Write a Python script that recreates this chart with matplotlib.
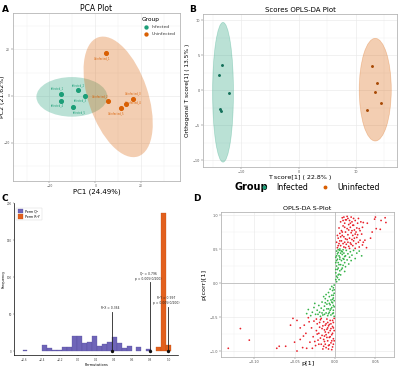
import matplotlib
matplotlib.use('Agg')
import matplotlib.pyplot as plt
from matplotlib.patches import Ellipse
from matplotlib.lines import Line2D
from matplotlib.ticker import MultipleLocator

plt.rcParams['font.family'] = ['DejaVu Sans']

# ---------------- data ----------------
# Panel A: PCA scores
pca_inf_names = ['Infected_1', 'Infected_2', 'Infected_3', 'Infected_4', 'Infected_5']
pca_inf_x = [-14.8, -7.4, -4.3, -14.8, -9.6]
pca_inf_y = [0.9, 2.6, 0.0, -2.1, -4.7]
pca_uninf_names = ['Uninfected_1', 'Uninfected_2', 'Uninfected_3', 'Uninfected_4', 'Uninfected_5']
pca_uninf_x = [4.8, 5.7, 16.5, 13.5, 11.3]
pca_uninf_y = [18.5, -2.1, -1.3, -3.4, -5.1]

# Panel B: OPLS-DA scores
opls_inf_t = [-13.4, -13.9, -12.2, -13.7, -13.6]
opls_inf_o = [3.6, 2.1, -0.4, -2.7, -3.0]
opls_uninf_t = [12.9, 13.7, 13.4, 14.4, 12.0]
opls_uninf_o = [3.4, 1.0, -0.3, -1.9, -2.9]

# Panel C: permutation histograms (left bin edges, counts)
q2_edges = [-0.62, -0.40, -0.345, -0.29, -0.235, -0.18, -0.125, -0.07, -0.015, 0.04, 0.095,
            0.15, 0.205, 0.26, 0.315, 0.37, 0.425, 0.48, 0.535, 0.645, 0.755]
q2_counts = [1, 8, 4, 2, 1, 6, 5, 20, 20, 11, 12, 20, 7, 10, 12, 19, 11, 4, 7, 6, 3]
r2y_edges = [0.865, 0.92, 0.975]
r2y_counts = [6, 186, 8]
bin_width = 0.055
stat_x = [0.375, 0.80, 1.0]
stat_h = [53, 93, 60]
stat_text = ['R\u00b2X = 0.364', 'Q\u00b2 = 0.796\np = 0.005(0/200)', 'R\u00b2Y = 0.997\np = 0.005(0/200)']

# Panel D: S-plot
s_p = [
    # upper
    0.003, 0.005, 0.004, 0.006, 0.005, 0.007, 0.008, 0.009, 0.008, 0.010, 0.011, 0.012, 0.011, 0.013, 0.012,
    0.014, 0.014, 0.015, 0.016, 0.015, 0.017, 0.016, 0.018, 0.019, 0.018, 0.020, 0.019, 0.021, 0.020, 0.022,
    0.023, 0.022, 0.024, 0.023, 0.025, 0.026, 0.027, 0.026, 0.028, 0.029, 0.030, 0.031, 0.030, 0.032, 0.033,
    0.035, 0.037, 0.034, 0.040, 0.035, 0.044, 0.049, 0.051, 0.056, 0.062, 0.063, 0.057, 0.050, 0.046, 0.039,
    0.002, 0.003, 0.007, 0.009, 0.013, 0.017, 0.021, 0.024, 0.028, 0.034, 0.006, 0.010, 0.015, 0.025, 0.019,
    0.004, 0.006, 0.007, 0.009, 0.010, 0.012, 0.013, 0.016, 0.017, 0.018, 0.020, 0.021, 0.022, 0.023, 0.025,
    0.027, 0.029, 0.031, 0.011, 0.013,
    # upper middle
    0.001, 0.002, 0.001, 0.003, 0.002, 0.004, 0.003, 0.005, 0.004, 0.006, 0.003, 0.005, 0.006, 0.004, 0.007,
    0.008, 0.006, 0.009, 0.008, 0.010, 0.011, 0.012, 0.013, 0.014, 0.015, 0.016, 0.018, 0.019, 0.021, 0.023,
    0.025, 0.027, 0.030, 0.033, 0.007, 0.009, 0.010, 0.012, 0.002, 0.001, 0.002, 0.005, 0.008, 0.011, 0.017,
    0.020, 0.007, 0.013, 0.004, 0.010,
    0.001, 0.002, 0.003, 0.001, 0.002, 0.004, 0.005, 0.006, 0.009, 0.012,
    # lower middle
    -0.001, -0.002, -0.003, -0.001, -0.004, -0.002, -0.005, -0.003, -0.006, -0.004, -0.002, -0.007, -0.005,
    -0.001, -0.006, -0.008, -0.007, -0.009, -0.010, -0.008, -0.011, -0.012, -0.013, -0.014, -0.015, -0.016,
    -0.017, -0.019, -0.020, -0.022, -0.024, -0.026, -0.028, -0.030, -0.033, -0.035, -0.011, -0.003, -0.009,
    -0.018, -0.002, -0.012, -0.006, -0.014, -0.021, -0.004, -0.010, -0.025, -0.001, -0.016,
    -0.001, -0.002, -0.003, -0.001, -0.002, -0.004, -0.005, -0.007, -0.008, -0.013,
    # lower
    -0.001, -0.002, -0.003, -0.001, -0.004, -0.002, -0.005, -0.003, -0.006, -0.007, -0.005, -0.008, -0.006,
    -0.009, -0.007, -0.010, -0.011, -0.009, -0.012, -0.010, -0.013, -0.011, -0.014, -0.015, -0.013, -0.016,
    -0.014, -0.017, -0.018, -0.019, -0.020, -0.021, -0.022, -0.023, -0.024, -0.026, -0.027, -0.029, -0.031,
    -0.033, -0.036, -0.038, -0.040, -0.043, -0.047, -0.047, -0.050, -0.055, -0.061, -0.069, -0.072, -0.117,
    -0.106, -0.132, -0.004, -0.008, -0.002, -0.012, -0.015, -0.003, -0.008, -0.017, -0.025, -0.028, -0.032,
    -0.035, -0.039, -0.043, -0.052,
    -0.002, -0.003, -0.004, -0.005, -0.006, -0.007, -0.008, -0.009, -0.010, -0.011, -0.012, -0.013, -0.014,
    -0.016, -0.018, -0.019, -0.020, -0.022, -0.023, -0.001,
]
s_pcorr = [
    # upper
    0.52, 0.58, 0.66, 0.73, 0.81, 0.55, 0.62, 0.70, 0.77, 0.84, 0.53, 0.60, 0.68, 0.75, 0.88,
    0.93, 0.57, 0.64, 0.71, 0.80, 0.86, 0.95, 0.51, 0.59, 0.66, 0.74, 0.82, 0.90, 0.97, 0.55,
    0.62, 0.70, 0.78, 0.85, 0.92, 0.58, 0.67, 0.75, 0.88, 0.95, 0.53, 0.63, 0.80, 0.90, 0.72,
    0.89, 0.63, 0.56, 0.88, 0.60, 0.66, 0.94, 0.80, 0.79, 0.96, 0.89, 0.92, 0.97, 0.75, 0.52,
    0.60, 0.70, 0.90, 0.96, 0.65, 0.54, 0.77, 0.66, 0.71, 0.82, 0.50, 0.92, 0.98, 0.51, 0.88,
    0.55, 0.62, 0.68, 0.75, 0.58, 0.82, 0.52, 0.60, 0.78, 0.92, 0.57, 0.64, 0.85, 0.95, 0.72,
    0.81, 0.60, 0.77, 0.97, 0.93,
    # upper middle
    0.05, 0.10, 0.15, 0.20, 0.25, 0.30, 0.35, 0.40, 0.45, 0.48, 0.08, 0.13, 0.18, 0.22, 0.27,
    0.33, 0.38, 0.42, 0.47, 0.36, 0.44, 0.30, 0.40, 0.48, 0.34, 0.43, 0.38, 0.46, 0.41, 0.48,
    0.36, 0.44, 0.47, 0.40, 0.12, 0.22, 0.26, 0.17, 0.02, 0.30, 0.40, 0.05, 0.20, 0.35, 0.28,
    0.33, 0.44, 0.24, 0.49, 0.49,
    0.20, 0.33, 0.43, 0.38, 0.47, 0.12, 0.27, 0.35, 0.46, 0.39,
    # lower middle
    -0.03, -0.07, -0.11, -0.15, -0.18, -0.22, -0.25, -0.29, -0.32, -0.36, -0.40, -0.43, -0.47,
    -0.49, -0.09, -0.14, -0.20, -0.26, -0.31, -0.38, -0.44, -0.23, -0.34, -0.40, -0.47, -0.28,
    -0.37, -0.43, -0.33, -0.40, -0.46, -0.36, -0.43, -0.48, -0.39, -0.45, -0.17, -0.45, -0.48,
    -0.49, -0.33, -0.29, -0.40, -0.20, -0.46, -0.05, -0.38, -0.30, -0.26, -0.44,
    -0.10, -0.18, -0.24, -0.35, -0.44, -0.28, -0.38, -0.30, -0.45, -0.46,
    # lower
    -0.52, -0.58, -0.64, -0.70, -0.76, -0.82, -0.88, -0.94, -0.55, -0.61, -0.67, -0.73, -0.79,
    -0.85, -0.91, -0.53, -0.60, -0.66, -0.72, -0.80, -0.86, -0.95, -0.57, -0.63, -0.69, -0.77,
    -0.83, -0.90, -0.54, -0.65, -0.74, -0.84, -0.60, -0.70, -0.92, -0.56, -0.79, -0.66, -0.87,
    -0.51, -0.74, -0.62, -0.95, -0.83, -0.55, -1.00, -0.87, -0.62, -0.93, -0.93, -0.96, -0.67,
    -0.84, -0.96, -0.98, -0.97, -0.90, -0.90, -0.97, -0.74, -0.63, -0.52, -0.86, -0.96, -0.57,
    -0.96, -0.78, -0.66, -0.52,
    -0.66, -0.55, -0.85, -0.60, -0.70, -0.80, -0.92, -0.58, -0.68, -0.76, -0.62, -0.78, -0.93,
    -0.67, -0.81, -0.58, -0.90, -0.75, -0.53, -0.85,
]

# ---------------- style ----------------
TEAL = '#1b9e77'
ORANGE = '#d95f02'
GRID = '#ebebeb'
BORDER = '#b5b5b5'
TICK_FS = 2.5

fig = plt.figure(figsize=(4.0, 3.66), dpi=100)


def bw_axes(ax):
    for s in ax.spines.values():
        s.set_color(BORDER)
        s.set_linewidth(0.6)
    ax.grid(True, which='major', color=GRID, lw=0.5)
    ax.grid(True, which='minor', color=GRID, lw=0.25)
    ax.set_axisbelow(True)
    ax.tick_params(which='both', labelsize=TICK_FS, length=1.2, width=0.3, pad=1,
                   colors='#555555')
    ax.tick_params(which='minor', length=0)


# ---------------- Panel A ----------------
axA = fig.add_axes([0.032, 0.5055, 0.418, 0.459])
bw_axes(axA)
axA.tick_params(labelsize=2.2, pad=0.8)
axA.add_patch(Ellipse((-10.2, -0.4), 31, 17, angle=0, facecolor=TEAL, alpha=0.3, lw=0))
axA.add_patch(Ellipse((10.0, -0.4), 54, 26, angle=109, facecolor=ORANGE, alpha=0.3, lw=0))
axA.scatter(pca_inf_x, pca_inf_y, s=7, color=TEAL, zorder=3, label='Infected')
axA.scatter(pca_uninf_x, pca_uninf_y, s=7, color=ORANGE, zorder=3, label='Uninfected')
inf_off = [(-3, 4), (0, 3), (-4, -3), (-3, -3), (4, -4)]
uninf_off = [(-3, -4), (-6, 3), (0, 4), (5, 1), (-4, -4)]
for x, y, n, o in zip(pca_inf_x, pca_inf_y, pca_inf_names, inf_off):
    axA.annotate(n, (x, y), xytext=o, textcoords='offset points', fontsize=1.8,
                 color=TEAL, ha='center', va='center')
for x, y, n, o in zip(pca_uninf_x, pca_uninf_y, pca_uninf_names, uninf_off):
    axA.annotate(n, (x, y), xytext=o, textcoords='offset points', fontsize=1.8,
                 color=ORANGE, ha='center', va='center')
axA.set_xlim(-36, 37)
axA.set_ylim(-36.5, 35.6)
axA.xaxis.set_major_locator(MultipleLocator(20))
axA.yaxis.set_major_locator(MultipleLocator(20))
axA.xaxis.set_minor_locator(MultipleLocator(10))
axA.yaxis.set_minor_locator(MultipleLocator(10))
axA.set_title('PCA Plot', fontsize=5.5, pad=1.5)
axA.set_xlabel('PC1 (24.49%)', fontsize=5)
axA.xaxis.set_label_coords(0.5, -0.045)
axA.set_ylabel('PC2 (21.62%)', fontsize=4.5)
axA.yaxis.set_label_coords(-0.045, 0.5)
legA = axA.legend(title='Group', loc='upper right', fontsize=3.2, title_fontsize=4.2,
                  frameon=False, markerscale=0.8, handletextpad=0.2, borderaxespad=0.6,
                  labelspacing=0.6)
legA._legend_box.align = 'left'
for t in legA.get_texts():
    t.set_color('#333333')

# ---------------- Panel B ----------------
axB = fig.add_axes([0.5075, 0.5437, 0.485, 0.418])
bw_axes(axB)
axB.add_patch(Ellipse((-13.2, -0.3), 3.65, 20, facecolor=TEAL, alpha=0.3, edgecolor=TEAL, lw=0.5))
axB.add_patch(Ellipse((13.4, 0.07), 5.6, 14.7, facecolor=ORANGE, alpha=0.3, edgecolor=ORANGE, lw=0.5))
axB.scatter(opls_inf_t, opls_inf_o, s=1.2, color='#14705a', zorder=3)
axB.scatter(opls_uninf_t, opls_uninf_o, s=1.2, color='#a84a05', zorder=3)
axB.set_xlim(-16.7, 17.2)
axB.set_ylim(-11, 10.9)
axB.xaxis.set_major_locator(MultipleLocator(10))
axB.yaxis.set_major_locator(MultipleLocator(5))
axB.xaxis.set_minor_locator(MultipleLocator(5))
axB.yaxis.set_minor_locator(MultipleLocator(2.5))
axB.set_title('Scores OPLS-DA Plot', fontsize=5, pad=1.5)
axB.set_xlabel('T score[1] ( 22.8% )', fontsize=4.6, labelpad=1)
axB.set_ylabel('Orthogonal T score[1] ( 13.5% )', fontsize=4.2, labelpad=1.5)

# shared group legend under B
fig.text(0.587, 0.489, 'Group', fontsize=7, fontweight='bold', va='center', ha='left')
handles = [Line2D([], [], marker='o', ls='', color=TEAL, markersize=1.8),
           Line2D([], [], marker='o', ls='', color=ORANGE, markersize=1.8)]
fig.legend(handles, ['Infected', 'Uninfected'], loc='center', bbox_to_anchor=(0.795, 0.489),
           ncol=2, fontsize=5.6, frameon=False, handletextpad=0.6, columnspacing=1.2,
           borderaxespad=0)

# ---------------- Panel C ----------------
axC = fig.add_axes([0.036, 0.030, 0.41, 0.415])
axC.bar(q2_edges, q2_counts, width=bin_width, align='edge', color='#6f65b8',
        edgecolor='#4e4898', lw=0.2, label='Perm Q\u00b2')
axC.bar(r2y_edges, r2y_counts, width=bin_width, align='edge', color='#e2601d',
        edgecolor='#b84a10', lw=0.2, label='Perm R\u00b2Y')
for x, h, t in zip(stat_x, stat_h, stat_text):
    axC.plot([x, x], [0, h], color='#222222', lw=0.6)
    axC.scatter([x], [0], s=2, color='#111111', zorder=4)
    axC.text(x - 0.02, h + 2, t, fontsize=2.2, ha='center', va='bottom', color='#222222',
             linespacing=1.3)
axC.set_xlim(-0.71, 1.11)
axC.set_ylim(-5.3, 200)
axC.xaxis.set_major_locator(MultipleLocator(0.2))
axC.yaxis.set_major_locator(MultipleLocator(50))
for s in ['top', 'right']:
    axC.spines[s].set_visible(False)
for s in ['left', 'bottom']:
    axC.spines[s].set_linewidth(0.5)
axC.tick_params(labelsize=2.0, length=1.0, width=0.3, pad=0.8, colors='#444444')
axC.set_xlabel('Permutations', fontsize=2.5)
axC.xaxis.set_label_coords(0.5, -0.055)
axC.set_ylabel('Frequency', fontsize=2.5)
axC.yaxis.set_label_coords(-0.052, 0.5)
axC.legend(loc='upper left', fontsize=2.3, frameon=True, edgecolor='#cccccc', fancybox=False,
           handlelength=1.6, handleheight=1.6, borderpad=0.5, labelspacing=0.3,
           bbox_to_anchor=(0.0, 0.98)).get_frame().set_linewidth(0.3)

# ---------------- Panel D ----------------
axD = fig.add_axes([0.5525, 0.0246, 0.4325, 0.396])
bw_axes(axD)
cols = ['#e8202a' if abs(v) > 0.5 else '#37b34a' for v in s_pcorr]
axD.axhline(0, color='#c4c4c4', lw=0.7, zorder=1)
axD.axvline(0, color='#c4c4c4', lw=0.7, zorder=1)
axD.scatter(s_p, s_pcorr, s=1.6, c=cols, lw=0, zorder=3)
axD.set_xlim(-0.141, 0.073)
axD.set_ylim(-1.088, 1.044)
axD.xaxis.set_major_locator(MultipleLocator(0.05))
axD.yaxis.set_major_locator(MultipleLocator(0.5))
axD.xaxis.set_minor_locator(MultipleLocator(0.025))
axD.yaxis.set_minor_locator(MultipleLocator(0.25))
axD.set_title('OPLS-DA S-Plot', fontsize=4.6, pad=1.5)
axD.set_xlabel('p[1]', fontsize=4.6)
axD.xaxis.set_label_coords(0.5, -0.03)
axD.set_ylabel('p(corr)[1]', fontsize=4.6)
axD.yaxis.set_label_coords(-0.085, 0.5)

# panel letters
for (x, y, l) in [(0.005, 0.985, 'A'), (0.472, 0.985, 'B'), (0.005, 0.47, 'C'), (0.482, 0.47, 'D')]:
    fig.text(x, y, l, fontsize=6.5, fontweight='bold', va='top', ha='left')

fig.savefig('out.png', dpi=100)
